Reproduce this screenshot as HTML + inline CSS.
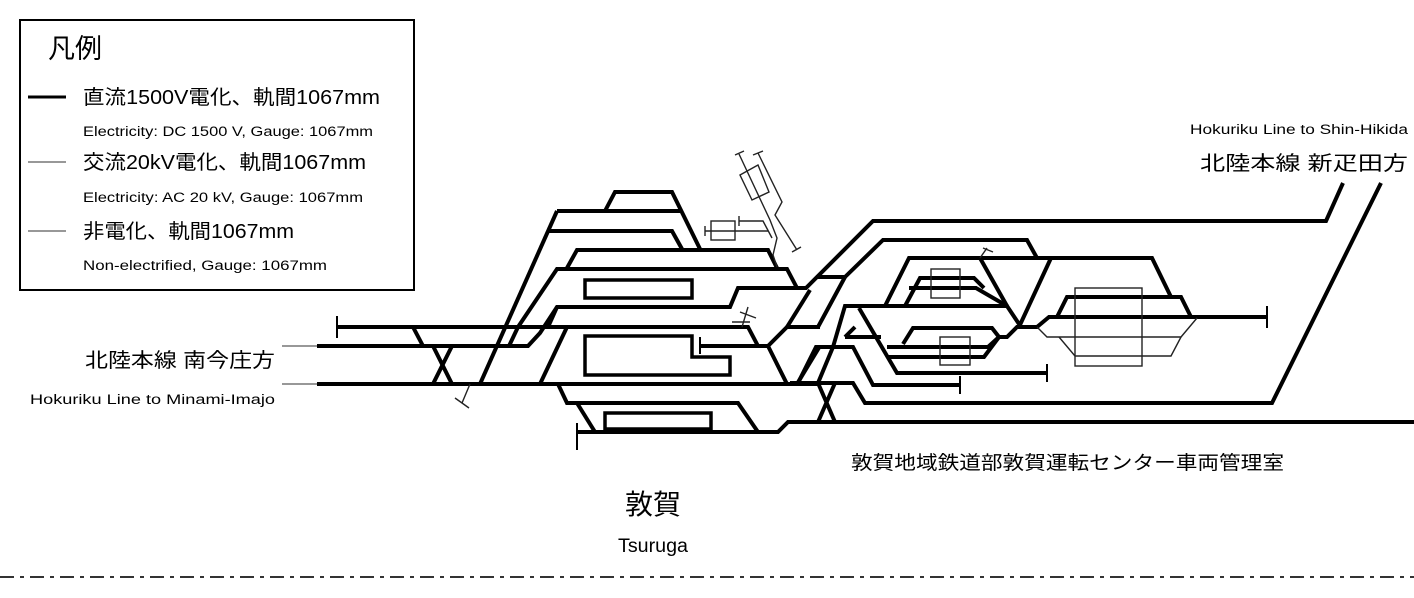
<!DOCTYPE html>
<html><head><meta charset="utf-8"><style>
body{margin:0;background:#fff;}
svg{display:block;font-family:"Liberation Sans","Noto Sans CJK JP",sans-serif;}
.t{fill:none;stroke:#000;stroke-width:4;stroke-linejoin:miter;}
.n{fill:none;stroke:#222;stroke-width:1.4;}
</style></head><body>
<svg width="1414" height="598" viewBox="0 0 1414 598">
<rect x="20" y="20" width="394" height="270" fill="none" stroke="#000" stroke-width="2"/>
<text x="48" y="58" font-size="27" fill="#000">凡例</text>
<line x1="28" y1="97" x2="66" y2="97" stroke="#000" stroke-width="3"/>
<text x="83" y="104" font-size="20" textLength="297" lengthAdjust="spacingAndGlyphs">直流1500V電化、軌間1067mm</text>
<text x="83" y="136" font-size="13.5" textLength="290" lengthAdjust="spacingAndGlyphs">Electricity: DC 1500 V, Gauge: 1067mm</text>
<line x1="28" y1="162" x2="66" y2="162" stroke="#777" stroke-width="1.5"/>
<text x="83" y="169" font-size="20" textLength="283" lengthAdjust="spacingAndGlyphs">交流20kV電化、軌間1067mm</text>
<text x="83" y="202" font-size="13.5" textLength="280" lengthAdjust="spacingAndGlyphs">Electricity: AC 20 kV, Gauge: 1067mm</text>
<line x1="28" y1="231" x2="66" y2="231" stroke="#777" stroke-width="1.5"/>
<text x="83" y="238" font-size="20" textLength="211" lengthAdjust="spacingAndGlyphs">非電化、軌間1067mm</text>
<text x="83" y="270" font-size="13.5" textLength="244" lengthAdjust="spacingAndGlyphs">Non-electrified, Gauge: 1067mm</text>

<text x="1190" y="134" font-size="13.5" textLength="218" lengthAdjust="spacingAndGlyphs">Hokuriku Line to Shin-Hikida</text>
<text x="1200" y="170" font-size="20" textLength="208" lengthAdjust="spacingAndGlyphs">北陸本線 新疋田方</text>
<text x="85" y="367" font-size="20" textLength="190" lengthAdjust="spacingAndGlyphs">北陸本線 南今庄方</text>
<text x="30" y="404" font-size="13.5" textLength="245" lengthAdjust="spacingAndGlyphs">Hokuriku Line to Minami-Imajo</text>
<text x="851" y="469" font-size="19" textLength="433" lengthAdjust="spacingAndGlyphs">敦賀地域鉄道部敦賀運転センター車両管理室</text>
<text x="653" y="514" font-size="28" text-anchor="middle">敦賀</text>
<text x="618" y="552" font-size="19" textLength="70" lengthAdjust="spacingAndGlyphs">Tsuruga</text>
<line x1="0" y1="577" x2="1414" y2="577" stroke="#333" stroke-width="2" stroke-dasharray="14,6,4,6"/>

<line x1="282" y1="346" x2="318" y2="346" stroke="#777" stroke-width="1.4"/>
<line x1="282" y1="384" x2="318" y2="384" stroke="#777" stroke-width="1.4"/>

<g class="t">
<polyline points="336,327 748,327 758,346 768,346 787,327 820,327"/>
<line x1="337" y1="316" x2="337" y2="338" stroke-width="2"/>
<polyline points="317,346 528,346 540,333 557,307 730,307 738,288 800,288"/>
<line x1="317" y1="384" x2="820" y2="384"/>
<line x1="413" y1="327" x2="423" y2="346"/>
<line x1="433" y1="384" x2="452" y2="346"/>
<line x1="452" y1="384" x2="433" y2="346"/>
<line x1="480" y1="384" x2="557" y2="211"/>
<polyline points="509,346 518,327 557,269 787,269 797,288"/>
<polyline points="540,384 567,327"/>
<polyline points="548,327 557,307"/>
<polyline points="605,211 615,192 672,192 700,249"/>
<polyline points="557,211 680,211"/>
<polyline points="548,231 672,231 682,249"/>
<polyline points="567,268 577,250 768,250 777,268"/>
<rect x="585" y="280" width="107" height="18" stroke-width="3.5"/>
<polygon points="585,336 692,336 692,357 730,357 730,375 585,375" stroke-width="3.5"/>
<polyline points="700,346 758,346"/>
<line x1="700" y1="337" x2="700" y2="354" stroke-width="2"/>
<polyline points="768,346 787,384"/>
<polyline points="797,384 820,346"/>
<polyline points="787,327 810,290"/>
<polyline points="558,384 567,403 738,403 758,432"/>
<polyline points="577,432 778,432 788,422 1414,422"/>
<line x1="577" y1="423" x2="577" y2="450" stroke-width="2"/>
<polyline points="577,403 595,432"/>
<rect x="605" y="413" width="106" height="16" stroke-width="3.5"/>
</g>
<g class="n" stroke-width="1.6">
<line x1="470" y1="384" x2="462" y2="403"/>
<line x1="455" y1="398" x2="469" y2="408"/>
<line x1="748" y1="307" x2="742" y2="327"/>
<line x1="740" y1="312" x2="756" y2="318"/>
<line x1="732" y1="322" x2="750" y2="322"/>
</g>

<g class="n">
<polygon points="740,175 758,165 769,192 752,200"/>
<polyline points="739,154 770,220 777,238 773,255 777,267"/>
<line x1="735" y1="155" x2="744" y2="151"/>
<polyline points="758,153 782,202 775,215 797,250"/>
<line x1="753" y1="155" x2="763" y2="151"/>
<line x1="792" y1="252" x2="801" y2="247"/>
<rect x="711" y="221" width="24" height="19"/>
<line x1="705" y1="231" x2="768" y2="231"/>
<line x1="705" y1="226" x2="705" y2="236"/>
<polyline points="739,221 763,221 772,238"/>
<line x1="739" y1="216" x2="739" y2="226"/>
</g>

<g class="t">
<polyline points="790,288 806,288 873,221 1326,221 1343,183"/>
<polyline points="845,277 883,240 1027,240 1037,258"/>
<line x1="816" y1="277" x2="845" y2="277"/>
<polyline points="845,277 818,327 790,327"/>
<polyline points="885,306 909,258 1152,258 1171,297"/>
<polyline points="905,306 920,278 974,278 984,288"/>
<polyline points="909,288 976,288 1007,306"/>
<line x1="980" y1="258" x2="1007" y2="306"/>
<line x1="1051" y1="258" x2="1019" y2="327"/>
<polyline points="833,347 845,306 1007,306 1021,327"/>
<polyline points="859,308 897,373 1047,373"/>
<line x1="1047" y1="364" x2="1047" y2="382" stroke-width="2"/>
<polyline points="999,337 1007,337 1017,327 1037,327 1049,317 1267,317"/>
<line x1="1267" y1="306" x2="1267" y2="328" stroke-width="2"/>
<polyline points="1057,317 1067,297 1181,297 1191,317"/>
<polyline points="903,344 913,328 992,328 999,337"/>
<polyline points="887,347 988,347 999,337"/>
<polyline points="887,357 984,357 999,337"/>
<polyline points="845,337 881,337"/>
<line x1="845" y1="337" x2="855" y2="327"/>
<polyline points="798,383 816,347 853,347 873,385 960,385"/>
<line x1="960" y1="376" x2="960" y2="394" stroke-width="2"/>
<polyline points="790,383 853,383 865,403 1272,403 1381,183"/>
<line x1="818" y1="422" x2="835" y2="383"/>
<line x1="835" y1="422" x2="818" y2="383"/>
<line x1="833" y1="347" x2="818" y2="383"/>
</g>
<g class="n">
<line x1="980" y1="258" x2="987" y2="248"/>
<line x1="983" y1="248" x2="993" y2="252"/>
<rect x="931" y="269" width="29" height="29"/>
<rect x="940" y="337" width="30" height="28"/>
<rect x="1075" y="288" width="67" height="78"/>
<polyline points="1037,327 1047,337 1181,337 1197,318"/>
<polyline points="1059,337 1075,356 1171,356 1181,337"/>
</g>
</svg>
</body></html>
